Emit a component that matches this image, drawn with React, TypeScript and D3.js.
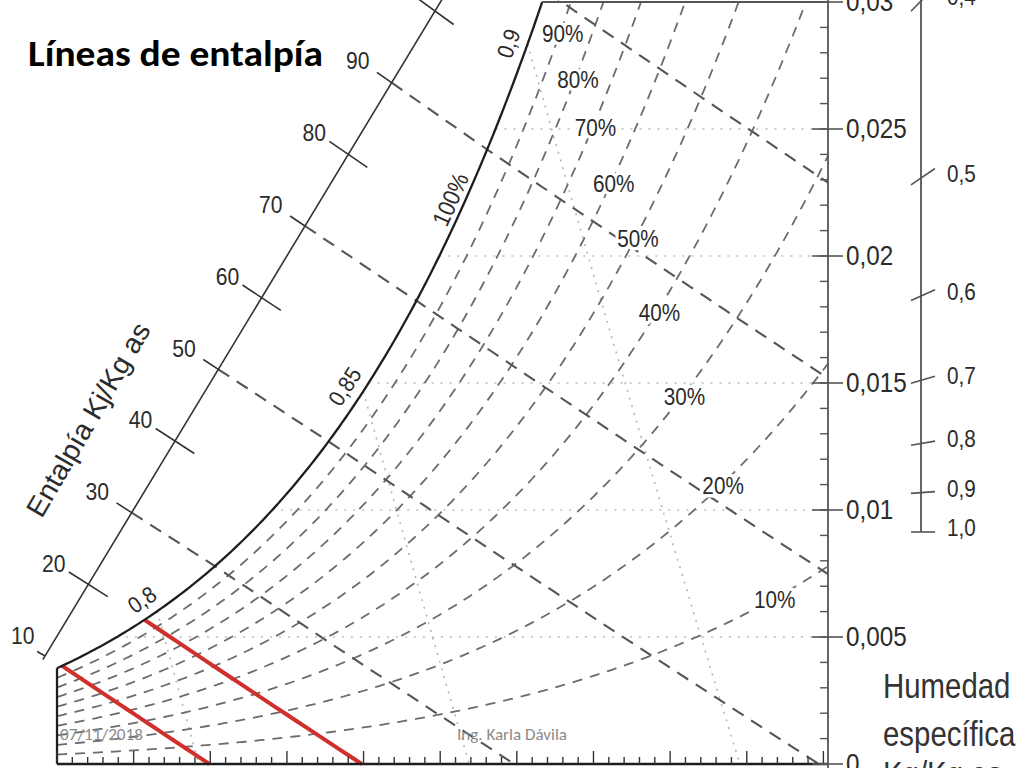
import React from 'react';
import * as d3 from 'd3';

// ---------- data ----------
const P_ATM = 101.325;
const tempMax = 50.3;
const rhLevels = [0.1, 0.2, 0.3, 0.4, 0.5, 0.6, 0.7, 0.8, 0.9];
const rhLabels = ['10%', '20%', '30%', '40%', '50%', '60%', '70%', '80%', '90%'];
const rhLabelW = [0.00646, 0.01094, 0.01445, 0.01776, 0.02067, 0.02283, 0.02504, 0.02693, 0.02874];
const enthalpyTicks = [10, 20, 30, 40, 50, 60, 70, 80, 90, 100];
const enthalpyDashed = [30, 50, 70, 90, 110];
const enthalpyRed = [10, 20];
const volumeValues = [0.8, 0.85, 0.9];
const volumeLabels = ['0,8', '0,85', '0,9'];
const humidityTicks = [0, 0.005, 0.01, 0.015, 0.02, 0.025, 0.03];
const humidityGrid = [0.005, 0.01, 0.015, 0.02, 0.025];
const shfValues = [0.4, 0.5, 0.6, 0.7, 0.8, 0.9, 1.0];
const satLabel = '100%';
const satLabelW = 0.022;
const tempTicks = d3.range(0, 51, 1);
const humidityMinor = d3.range(0, 31, 1).map((k) => k / 1000);

// ---------- psychrometrics ----------
const psat = (T: number) => 0.61078 * Math.exp((17.27 * T) / (T + 237.3));
const wRh = (T: number, phi: number) => {
  const p = phi * psat(T);
  return (0.622 * p) / (P_ATM - p);
};
const tRhW = (phi: number, W: number) => {
  const pw = (W * P_ATM) / (0.622 + W);
  const a = Math.log(pw / phi / 0.61078);
  return (237.3 * a) / (17.27 - a);
};
const hOf = (T: number, W: number) => 1.006 * T + W * (2501 + 1.86 * T);
const tHW = (h: number, W: number) => (h - 2501 * W) / (1.006 + 1.86 * W);
const vOf = (T: number, W: number) => (0.287042 * (T + 273.15) * (1 + 1.6078 * W)) / P_ATM;
const tVW = (v: number, W: number) => (v * P_ATM) / (0.287042 * (1 + 1.6078 * W)) - 273.15;
const bisect = (f: (t: number) => number, lo: number, hi: number) => {
  for (let i = 0; i < 60; i++) {
    const m = (lo + hi) / 2;
    if (f(m) > 0) hi = m;
    else lo = m;
  }
  return (lo + hi) / 2;
};

// ---------- scales ----------
const x = d3.scaleLinear().domain([0, tempMax]).range([57, 828]);
const y = d3.scaleLinear().domain([0, 0.03]).range([764, 2]);
const hx = d3.scaleLinear().domain([10, 100]).range([45, 435]);
const hy = d3.scaleLinear().domain([10, 100]).range([656, 11]);
const shfY = d3.scalePow().exponent(-1).domain([1, 0.5]).range([532, 178]);

const locale = d3.formatLocale({ decimal: ',', thousands: '.', grouping: [3], currency: ['', ''] });
const fmtW = locale.format('~g');
const fmtS = locale.format('.1f');

type Pt = [number, number];
const line = d3.line<Pt>();
const px = (T: number, W: number): Pt => [x(T), y(W)];

const chartFont = "'Liberation Sans', Arial, sans-serif";
const slideFont = "Carlito, Lato, 'Open Sans', sans-serif";

// curves
const tTop = tRhW(1, 0.03);
const satPts: Pt[] = [...d3.range(0, tTop, 0.2), tTop].map((T) => px(T, wRh(T, 1)));

const rhPaths = rhLevels.map((phi) => {
  const tEnd = Math.min(tempMax, tRhW(phi, 0.03));
  return [...d3.range(0, tEnd, 0.25), tEnd].map((T) => px(T, wRh(T, phi)));
});

const satForH = (h: number) => bisect((T) => hOf(T, wRh(T, 1)) - h, -10, 50);

const hLinePts = (h: number) => {
  const ts = satForH(h);
  const ws = wRh(ts, 1);
  const wStart = Math.min(ws, 0.03);
  const wEnd = Math.max(0, (h - 1.006 * tempMax) / (2501 + 1.86 * tempMax));
  const pts: Pt[] = d3.range(0, 21).map((i) => {
    const W = wStart + ((wEnd - wStart) * i) / 20;
    return px(tHW(h, W), W);
  });
  return { sat: px(ts, ws), pts, onChart: ws <= 0.03 };
};

const scalePt = (h: number): Pt => [hx(h), hy(h)];
const hDir = (h: number): Pt => {
  const p = scalePt(h);
  const s = hLinePts(h).sat;
  const dx = s[0] - p[0];
  const dy = s[1] - p[1];
  const L = Math.hypot(dx, dy);
  return [dx / L, dy / L];
};

const satTangent = (T: number) => {
  const a = px(T - 0.3, wRh(T - 0.3, 1));
  const b = px(T + 0.3, wRh(T + 0.3, 1));
  const dx = b[0] - a[0];
  const dy = b[1] - a[1];
  const L = Math.hypot(dx, dy);
  return { tx: dx / L, ty: dy / L, ang: (Math.atan2(dy, dx) * 180) / Math.PI };
};

const Txt = ({ x: X, y: Y, children, size = 21, rot = 0, sx = 0.92, anchor = 'middle', fill = '#2b2b2b', weight = 'normal', halo = false, family = chartFont, baseline = 'central' }: any) => (
  <text
    transform={`translate(${X},${Y}) rotate(${rot}) scale(${sx},1)`}
    textAnchor={anchor}
    dominantBaseline={baseline}
    fontSize={size}
    fontFamily={family}
    fontWeight={weight}
    fill={fill}
    stroke={halo ? '#fff' : 'none'}
    strokeWidth={halo ? 7 : 0}
    strokeLinejoin="round"
    paintOrder="stroke"
  >
    {children}
  </text>
);

export default function App() {
  const rightX = x(tempMax);
  const bottomY = y(0);
  const shfX = 921;

  return (
    <svg width={1024} height={768} style={{ position: 'absolute', left: 0, top: 0, background: '#fff' }}>
      <rect width={1024} height={768} fill="#fff" />

      {/* dotted humidity grid */}
      {humidityGrid.map((W) => (
        <line key={'g' + W} x1={x(tRhW(1, W))} x2={rightX} y1={y(W)} y2={y(W)} stroke="#bdbdbd" strokeWidth={1.6} strokeDasharray="2 7" />
      ))}

      {/* specific volume lines */}
      {volumeValues.map((v) => {
        const ts = bisect((T) => vOf(T, wRh(T, 1)) - v, -10, 50);
        const ws = wRh(ts, 1);
        const pts: Pt[] = d3.range(0, 11).map((i) => {
          const W = ws - (ws * i) / 10;
          return px(tVW(v, W), W);
        });
        return <path key={'v' + v} d={line(pts) || ''} fill="none" stroke="#b5b5b5" strokeWidth={1.6} strokeDasharray="2 6" />;
      })}

      {/* relative humidity curves */}
      {rhPaths.map((pts, i) => (
        <path key={'rh' + i} d={line(pts) || ''} fill="none" stroke="#6c6c6c" strokeWidth={1.8} strokeDasharray="10 8" />
      ))}

      {/* enthalpy dashed lines */}
      {enthalpyDashed.map((h) => {
        const { sat, pts, onChart } = hLinePts(h);
        const all: Pt[] = [scalePt(h), ...(onChart ? [sat] : []), ...pts];
        return <path key={'h' + h} d={line(all) || ''} fill="none" stroke="#555" strokeWidth={2.1} strokeDasharray="13 9" />;
      })}

      {/* red enthalpy lines */}
      {enthalpyRed.map((h) => {
        const { sat, pts } = hLinePts(h);
        return <path key={'r' + h} d={line([sat, ...pts]) || ''} fill="none" stroke="#d12f2b" strokeWidth={4} />;
      })}

      {/* saturation curve */}
      <path d={line(satPts) || ''} fill="none" stroke="#1e1e1e" strokeWidth={2.3} />
      {/* left edge */}
      <line x1={x(0)} x2={x(0)} y1={y(wRh(0, 1))} y2={bottomY} stroke="#1e1e1e" strokeWidth={2.3} />
      {/* top edge */}
      <line x1={x(tTop)} x2={rightX} y1={y(0.03)} y2={y(0.03)} stroke="#555" strokeWidth={2} />
      {/* bottom axis */}
      <line x1={x(0)} x2={rightX} y1={bottomY} y2={bottomY} stroke="#1e1e1e" strokeWidth={2.5} />
      {tempTicks.map((t) => (
        <line key={'tt' + t} x1={x(t)} x2={x(t)} y1={bottomY} y2={bottomY - (t % 5 === 0 ? 13 : 7)} stroke="#333" strokeWidth={1.4} />
      ))}

      {/* right humidity axis */}
      <line x1={rightX} x2={rightX} y1={0} y2={768} stroke="#555" strokeWidth={1.8} />
      {humidityMinor.map((W) => (
        <line key={'hm' + W} x1={rightX - 8} x2={rightX} y1={y(W)} y2={y(W)} stroke="#555" strokeWidth={1.4} />
      ))}
      {humidityTicks.map((W) => (
        <g key={'ht' + W}>
          <line x1={rightX - 16} x2={rightX + 15} y1={y(W)} y2={y(W)} stroke="#555" strokeWidth={1.6} />
          <Txt x={rightX + 18} y={y(W)} anchor="start" size={27} sx={0.9}>
            {fmtW(W)}
          </Txt>
        </g>
      ))}

      {/* sensible heat factor scale */}
      <line x1={shfX} x2={shfX} y1={0} y2={shfY(1)} stroke="#555" strokeWidth={1.8} />
      {shfValues.map((s) => {
        const yy = shfY(s);
        const k = 0.68 * (1 / s - 1);
        return (
          <g key={'s' + s}>
            <line x1={shfX - 10} x2={shfX + 14} y1={yy + k * 10} y2={yy - k * 14} stroke="#555" strokeWidth={1.6} />
            <Txt x={shfX + 26} y={yy - 4} anchor="start" size={23} sx={0.9}>
              {fmtS(s)}
            </Txt>
          </g>
        );
      })}

      {/* enthalpy scale */}
      <line x1={hx(9.5)} y1={hy(9.5)} x2={hx(103)} y2={hy(103)} stroke="#333" strokeWidth={1.6} />
      {enthalpyTicks.map((h) => {
        const p = scalePt(h);
        const d = hDir(h);
        const even = h % 20 === 0;
        const back = h === 10 ? 9 : even ? 23 : 18;
        const fwd = even ? 23 : 0;
        const off = h === 10 ? 12 : 27;
        return (
          <g key={'et' + h}>
            <line x1={p[0] - d[0] * back} y1={p[1] - d[1] * back} x2={p[0] + d[0] * fwd} y2={p[1] + d[1] * fwd} stroke="#333" strokeWidth={1.6} />
            <Txt x={p[0] - d[0] * off} y={p[1] - d[1] * off - (h === 10 ? 14 : 6)} anchor="end" size={24} sx={0.88}>
              {String(h)}
            </Txt>
          </g>
        );
      })}
      <Txt x={hx(43) - 100} y={hy(43)} rot={-60} size={28} sx={1.02}>
        Entalpía Kj/Kg as
      </Txt>

      {/* RH labels */}
      {rhLevels.map((phi, i) => (
        <Txt key={'rl' + i} x={x(tRhW(phi, rhLabelW[i])) + 3} y={y(rhLabelW[i])} size={23} sx={0.9} halo>
          {rhLabels[i]}
        </Txt>
      ))}

      {/* saturation label */}
      {(() => {
        const T = tRhW(1, satLabelW);
        const tg = satTangent(T);
        const p = px(T, satLabelW);
        return (
          <Txt x={p[0] + tg.ty * 14} y={p[1] - tg.tx * 14} rot={tg.ang} size={24} sx={0.9}>
            {satLabel}
          </Txt>
        );
      })()}

      {/* specific volume labels */}
      {volumeValues.map((v, i) => {
        const ts = bisect((T) => vOf(T, wRh(T, 1)) - v, -10, 50);
        const tg = satTangent(ts);
        const p = px(ts, wRh(ts, 1));
        return (
          <Txt key={'vl' + v} x={p[0] + tg.ty * 18 - tg.tx * 6} y={p[1] - tg.tx * 18 - tg.ty * 6} rot={tg.ang} size={23} sx={0.9}>
            {volumeLabels[i]}
          </Txt>
        );
      })}

      {/* humidity axis title */}
      <Txt x={883} y={698} anchor="start" baseline="alphabetic" size={35} sx={0.84} fill="#333">
        Humedad
      </Txt>
      <Txt x={883} y={746} anchor="start" baseline="alphabetic" size={35} sx={0.84} fill="#333">
        específica
      </Txt>
      <Txt x={883} y={786} anchor="start" baseline="alphabetic" size={35} sx={0.84} fill="#333">
        Kg/Kg as
      </Txt>

      {/* slide texts */}
      <text x={28} y={66} fontFamily={slideFont} fontWeight="bold" fontSize={37} fill="#000" textLength={295} lengthAdjust="spacingAndGlyphs">
        Líneas de entalpía
      </text>
      <text x={60} y={740} fontFamily={slideFont} fontSize={17} fill="#8a8a8a" textLength={83} lengthAdjust="spacingAndGlyphs">
        07/11/2018
      </text>
      <text x={457} y={740} fontFamily={slideFont} fontSize={17} fill="#8a8a8a" textLength={110} lengthAdjust="spacingAndGlyphs">
        Ing. Karla Dávila
      </text>
    </svg>
  );
}
